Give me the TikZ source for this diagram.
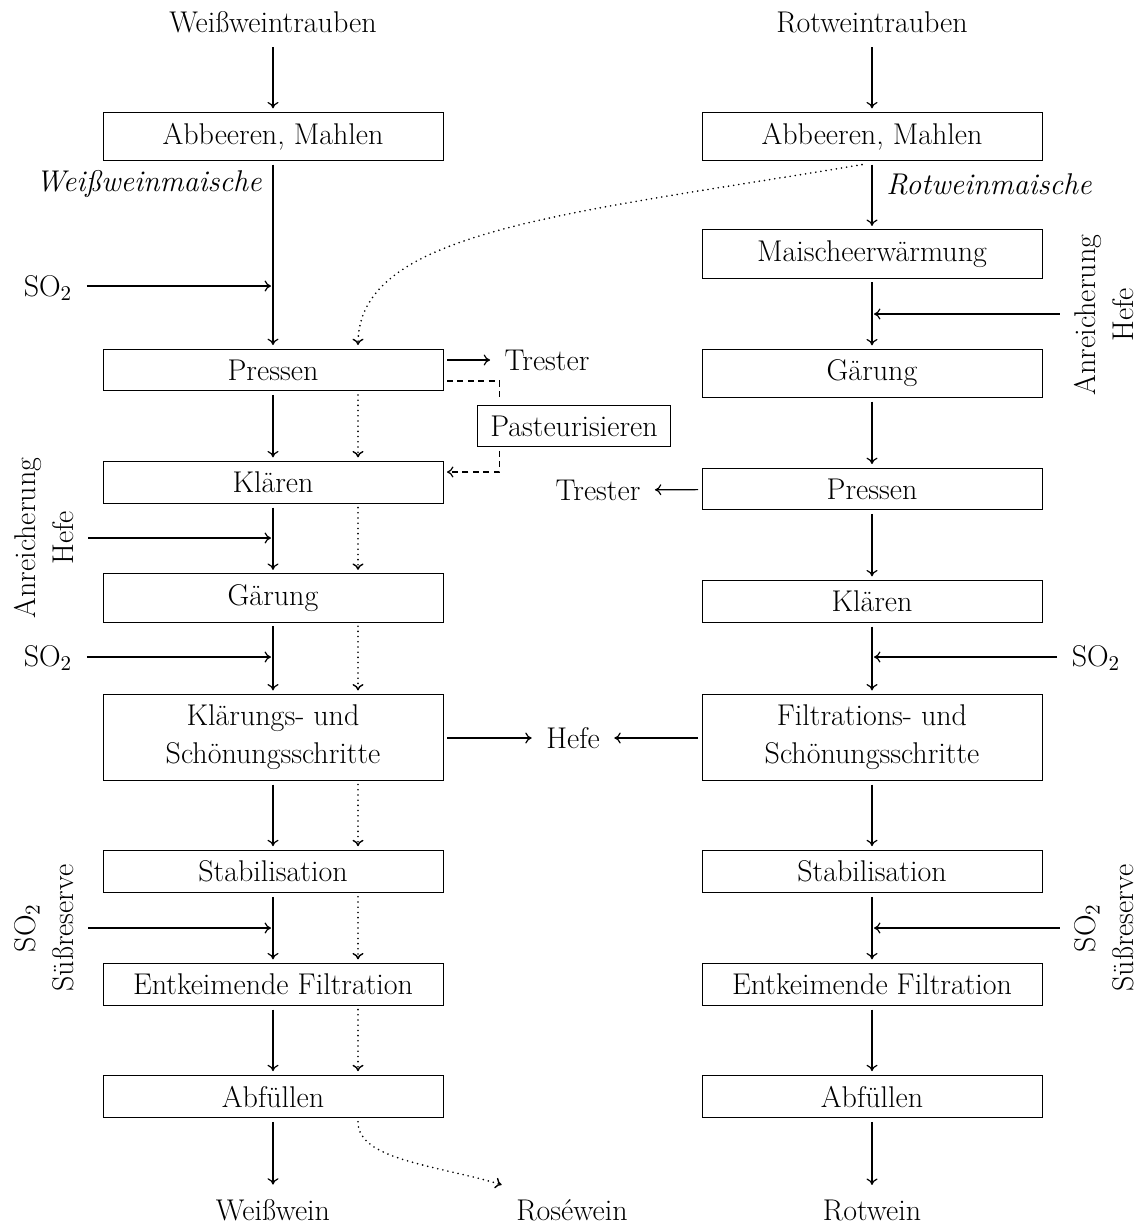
\documentclass[tikz,border=0pt]{standalone}
\usetikzlibrary{arrows.meta}
\begin{document}
\begin{tikzpicture}[x=0.5pt,y=-0.5pt,
  every node/.style={font=\fontsize{15}{19}\selectfont},
  itlbl/.style={font=\fontsize{15}{19}\selectfont\itshape, inner sep=2pt},
  box/.style={draw, line width=0.5pt, minimum width=170pt, inner xsep=5pt, inner ysep=5.3pt, outer sep=2pt},
  pbox/.style={draw, line width=0.5pt, inner xsep=6.5pt, inner ysep=5.3pt, outer sep=2pt},
  lbl/.style={inner sep=5.3pt, outer sep=2pt},
  flow/.style={-{To[length=3.2pt,width=5.5pt]}, line width=0.6pt},
  rosepath/.style={-{To[length=3.2pt,width=5.5pt,line width=0.7pt]}, line width=0.9pt, line cap=round, dash pattern=on 0pt off 2.6pt},
  pastpath/.style={line width=0.6pt, dash pattern=on 3pt off 2.2pt}]
\useasboundingbox (0,0) rectangle (1142,1227);

% ---------- left column (white wine)
\node[lbl] (wt) at (273,22) {Weißweintrauben};
\node[box] (aL) at (273,136.5) {Abbeeren, Mahlen};
\node[box] (pL) at (273,370) {Pressen};
\node[box] (kL) at (273,482.5) {Klären};
\node[box] (gL) at (273,598) {Gärung};
\node[box, align=center] (ksL) at (273,737.5) {Klärungs- und\\Schönungsschritte};
\node[box] (sL) at (273,871.5) {Stabilisation};
\node[box] (eL) at (273,984.5) {Entkeimende Filtration};
\node[box] (fL) at (273,1096.5) {Abfüllen};
\node[lbl] (ww) at (273,1210) {Weißwein};
\node[itlbl, anchor=east] (wm) at (266,184) {Weißweinmaische};

% ---------- right column (red wine)
\node[lbl] (rt) at (872,22) {Rotweintrauben};
\node[box] (aR) at (872,136.5) {Abbeeren, Mahlen};
\node[box] (mR) at (872,254) {Maischeerwärmung};
\node[box] (gR) at (872,373.5) {Gärung};
\node[box] (pR) at (872,489) {Pressen};
\node[box] (kR) at (872,601.5) {Klären};
\node[box, align=center] (fsR) at (872,737.5) {Filtrations- und\\Schönungsschritte};
\node[box] (sR) at (872,871.5) {Stabilisation};
\node[box] (eR) at (872,984.5) {Entkeimende Filtration};
\node[box] (fR) at (872,1096.5) {Abfüllen};
\node[lbl] (rw) at (872,1210) {Rotwein};
\node[itlbl, anchor=west] (rm) at (882,184) {Rotweinmaische};

% ---------- side labels
\node[lbl] (so1) at (48,288) {SO\textsubscript{2}};
\node[lbl, rotate=90, align=center] (ah1) at (44,538) {Anreicherung\\Hefe};
\node[lbl] (so2) at (48,658) {SO\textsubscript{2}};
\node[lbl, rotate=90, align=center] (ss1) at (44,928) {SO\textsubscript{2}\\Süßreserve};
\node[lbl, rotate=90, align=center] (ah2) at (1104,315) {Anreicherung\\Hefe};
\node[lbl] (so3) at (1096,658) {SO\textsubscript{2}};
\node[lbl, rotate=90, align=center] (ss2) at (1104,928) {SO\textsubscript{2}\\Süßreserve};

% ---------- middle
\node[lbl] (tr1) at (547,360) {Trester};
\node[pbox] (past) at (574,426) {Pasteurisieren};
\node[lbl] (tr2) at (598,490) {Trester};
\node[lbl] (hefe) at (573,738) {Hefe};
\node[lbl] (rose) at (572,1210) {Roséwein};

% ---------- junctions
\coordinate (j1) at (273,286);
\coordinate (j2) at (273,538);
\coordinate (j3) at (273,657);
\coordinate (j4) at (273,928);
\coordinate (r1) at (872,314);
\coordinate (r2) at (872,657);
\coordinate (r3) at (872,928);

% ---------- main flows
\draw[flow] (wt) -- (aL);
\draw[flow] (aL) -- (pL);
\draw[flow] (pL) -- (kL);
\draw[flow] (kL) -- (gL);
\draw[flow] (gL) -- (ksL);
\draw[flow] (ksL) -- (sL);
\draw[flow] (sL) -- (eL);
\draw[flow] (eL) -- (fL);
\draw[flow] (fL) -- (ww);

\draw[flow] (rt) -- (aR);
\draw[flow] (aR) -- (mR);
\draw[flow] (mR) -- (gR);
\draw[flow] (gR) -- (pR);
\draw[flow] (pR) -- (kR);
\draw[flow] (kR) -- (fsR);
\draw[flow] (fsR) -- (sR);
\draw[flow] (sR) -- (eR);
\draw[flow] (eR) -- (fR);
\draw[flow] (fR) -- (rw);

% ---------- additions
\draw[flow, shorten >=1pt] (so1.east |- j1) -- (j1);
\draw[flow, shorten >=1pt] (ah1.south |- j2) -- (j2);
\draw[flow, shorten >=1pt] (so2.east |- j3) -- (j3);
\draw[flow, shorten >=1pt] (ss1.south |- j4) -- (j4);
\draw[flow, shorten >=1pt] (ah2.north |- r1) -- (r1);
\draw[flow, shorten >=1pt] (so3.west |- r2) -- (r2);
\draw[flow, shorten >=1pt] (ss2.north |- r3) -- (r3);

% ---------- side outputs
\draw[flow] (pL.east |- tr1) -- (tr1);
\draw[flow] (pR) -- (tr2);
\draw[flow] (ksL.east |- hefe) -- (hefe);
\draw[flow] (fsR.west |- hefe) -- (hefe);

% ---------- pasteurisation
\draw[pastpath] ([yshift=-5.5pt]pL.east) -| ([xshift=13pt]past.north west);
\draw[pastpath,-{To[length=3.2pt,width=5.5pt]}] ([xshift=13pt]past.south west) |- ([yshift=5.25pt]kL.east);

% ---------- rose path
\draw[rosepath] ([xshift=-5pt]aR.south) .. controls +(-150pt,-25pt) and +(0,57pt) .. ([xshift=42.5pt]pL.north);
\foreach \a/\b in {pL/kL, kL/gL, gL/ksL, ksL/sL, sL/eL, eL/fL}
  \draw[rosepath] ([xshift=42.5pt]\a.south) -- ([xshift=42.5pt]\b.north);
\draw[rosepath] ([xshift=42.5pt]fL.south) .. controls +(0,-19pt) and +(-33.5pt,10pt) .. (rose.north west);
\end{tikzpicture}
\end{document}
